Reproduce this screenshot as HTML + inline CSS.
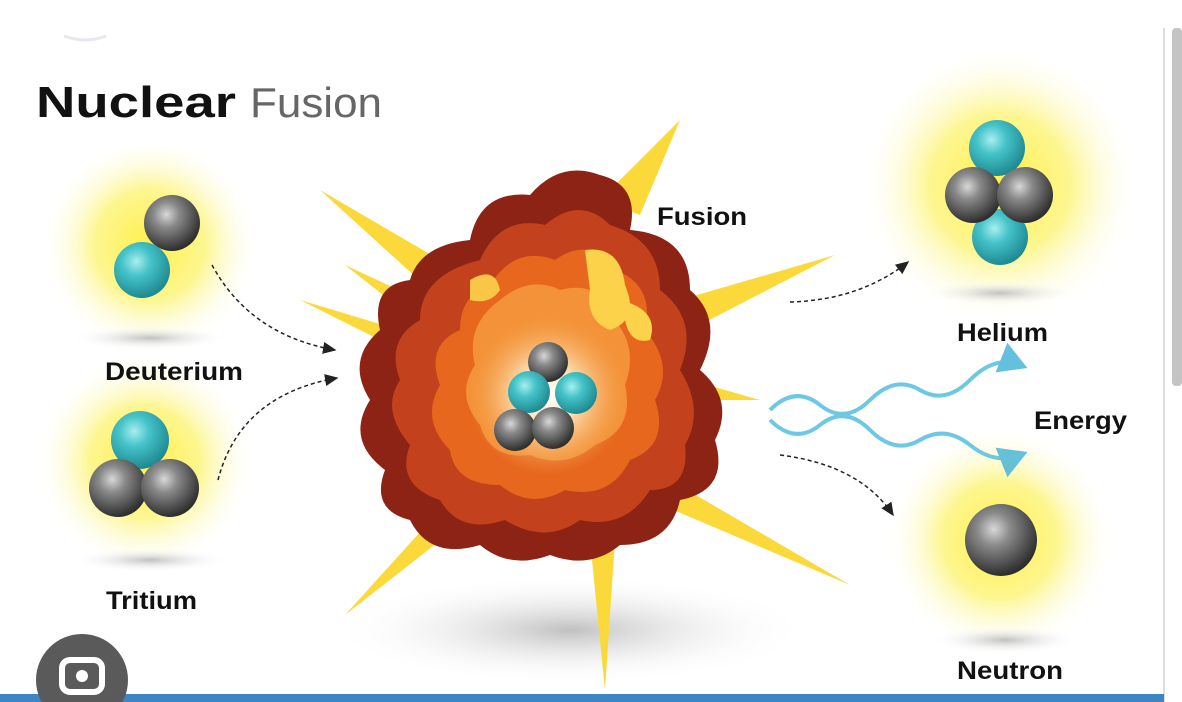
<!DOCTYPE html>
<html><head><meta charset="utf-8"><style>
html,body{margin:0;padding:0;background:#fff;}
svg{display:block;font-family:"Liberation Sans",sans-serif;}
</style></head><body>
<svg width="1182" height="702" viewBox="0 0 1182 702">
<defs>
<radialGradient id="glow"><stop offset="0" stop-color="#fff04a"/><stop offset="0.5" stop-color="#fdf690"/><stop offset="1" stop-color="#fff" stop-opacity="0"/></radialGradient>
<radialGradient id="shad"><stop offset="0" stop-color="#c0c0c0"/><stop offset="1" stop-color="#fff" stop-opacity="0"/></radialGradient>
<radialGradient id="gray" cx="0.4" cy="0.35" r="0.65"><stop offset="0" stop-color="#d8d8d8"/><stop offset="0.35" stop-color="#8a8a8a"/><stop offset="1" stop-color="#2e2e2e"/></radialGradient>
<radialGradient id="teal" cx="0.4" cy="0.35" r="0.65"><stop offset="0" stop-color="#a8eef0"/><stop offset="0.4" stop-color="#45c3c9"/><stop offset="1" stop-color="#1f8a92"/></radialGradient>
<radialGradient id="core"><stop offset="0" stop-color="#fff"/><stop offset="0.35" stop-color="#fde7c0"/><stop offset="1" stop-color="#f6a04a" stop-opacity="0"/></radialGradient>
<marker id="ah" markerWidth="10" markerHeight="10" refX="8" refY="5" orient="auto"><path d="M0,1 L9,5 L0,9 Z" fill="#222"/></marker>
<marker id="bh" markerWidth="8" markerHeight="8" refX="5" refY="4" orient="auto"><path d="M0,0 L7,4 L0,8 Z" fill="#4bb6d8"/></marker>
</defs>
<rect width="1182" height="702" fill="#fff"/>
<line x1="1164" y1="28" x2="1164" y2="702" stroke="#ddd" stroke-width="2"/>
<rect x="1172" y="28" width="10" height="358" rx="4" fill="#c4c4c4"/>
<path d="M64,36 Q86,44 106,36" stroke="#e6e8ec" stroke-width="3" fill="none"/>
<text x="36" y="117" font-size="44" font-weight="bold" fill="#111" textLength="200" lengthAdjust="spacingAndGlyphs">Nuclear</text>
<text x="250" y="117" font-size="42" fill="#666" textLength="132" lengthAdjust="spacingAndGlyphs">Fusion</text>
<circle cx="150" cy="245" r="110" fill="url(#glow)"/>
<circle cx="145" cy="462" r="110" fill="url(#glow)"/>
<circle cx="1000" cy="185" r="140" fill="url(#glow)"/>
<circle cx="1000" cy="540" r="115" fill="url(#glow)"/>
<ellipse cx="150" cy="338" rx="80" ry="12" fill="url(#shad)"/>
<ellipse cx="150" cy="560" rx="80" ry="12" fill="url(#shad)"/>
<ellipse cx="1000" cy="293" rx="75" ry="12" fill="url(#shad)"/>
<ellipse cx="1005" cy="640" rx="75" ry="14" fill="url(#shad)"/>
<ellipse cx="570" cy="630" rx="240" ry="55" fill="url(#shad)"/>
<g fill="#fbd93a">
<polygon points="600,200 680,120 640,215"/>
<polygon points="440,260 320,190 430,290"/>
<polygon points="420,300 345,265 415,320"/>
<polygon points="400,330 300,300 400,350"/>
<polygon points="680,300 835,255 690,330"/>
<polygon points="690,380 760,400 690,400"/>
<polygon points="670,480 850,585 650,500"/>
<polygon points="440,510 345,615 460,525"/>
<polygon points="590,540 605,690 615,540"/>
</g>
<path d="M470,240 Q480,190 530,195 Q560,160 600,175 Q640,185 630,230 Q690,235 690,290 Q725,320 700,370 Q735,400 715,440 Q730,490 680,500 Q670,545 620,545 Q590,570 550,555 Q510,570 480,545 Q430,560 410,520 Q370,510 385,470 Q345,440 370,400 Q345,360 380,330 Q370,285 410,280 Q420,245 470,240 Z" fill="#8c2314"/>
<path d="M480,260 Q500,215 545,225 Q580,195 610,225 Q660,240 660,290 Q700,320 680,370 Q705,410 685,445 Q690,490 650,490 Q625,530 580,520 Q545,545 505,520 Q460,535 440,500 Q395,485 410,445 Q380,410 400,380 Q385,340 420,320 Q420,275 480,260 Z" fill="#c3421d"/>
<path d="M490,285 Q515,245 555,260 Q590,235 615,270 Q655,285 645,330 Q675,365 655,400 Q670,445 630,460 Q610,500 565,490 Q530,510 500,485 Q455,485 450,450 Q420,420 440,385 Q425,345 460,330 Q460,295 490,285 Z" fill="#e8671f"/>
<path d="M500,300 Q530,275 560,290 Q600,280 610,315 Q640,345 625,385 Q635,430 595,445 Q565,470 530,455 Q490,460 480,425 Q455,395 475,365 Q465,325 500,300 Z" fill="#f39238"/>
<path d="M585,250 Q620,245 625,285 Q640,320 610,330 Q585,320 590,290 Z" fill="#fbd24a"/>
<path d="M470,280 Q495,265 500,290 Q490,305 470,300 Z" fill="#f9c648"/>
<path d="M620,300 Q660,310 650,340 Q630,345 625,320 Z" fill="#fbd24a"/>
<circle cx="548" cy="395" r="80" fill="url(#core)"/>
<g fill="none" stroke="#222" stroke-width="1.5" stroke-dasharray="4,3">
<path d="M212,265 Q250,335 335,350" marker-end="url(#ah)"/>
<path d="M218,480 Q240,395 337,378" marker-end="url(#ah)"/>
<path d="M790,302 Q860,300 908,262" marker-end="url(#ah)"/>
<path d="M780,455 Q860,465 893,515" marker-end="url(#ah)"/>
</g>
<g fill="none" stroke="#55bfe0" stroke-width="4" opacity="0.85">
<path d="M770,410 Q795,385 820,405 T870,400 T920,390 T970,380 T1020,365" marker-end="url(#bh)"/>
<path d="M770,420 Q795,445 820,425 T870,430 T920,440 T970,445 T1020,455" marker-end="url(#bh)"/>
</g>
<circle cx="172" cy="223" r="28" fill="url(#gray)"/>
<circle cx="142" cy="270" r="28" fill="url(#teal)"/>
<circle cx="140" cy="440" r="29" fill="url(#teal)"/>
<circle cx="118" cy="488" r="29" fill="url(#gray)"/>
<circle cx="170" cy="488" r="29" fill="url(#gray)"/>
<circle cx="997" cy="148" r="28" fill="url(#teal)"/>
<circle cx="1000" cy="237" r="28" fill="url(#teal)"/>
<circle cx="973" cy="195" r="28" fill="url(#gray)"/>
<circle cx="1025" cy="195" r="28" fill="url(#gray)"/>
<circle cx="1001" cy="540" r="36" fill="url(#gray)"/>
<circle cx="548" cy="362" r="20" fill="url(#gray)"/>
<circle cx="529" cy="392" r="21" fill="url(#teal)"/>
<circle cx="576" cy="393" r="21" fill="url(#teal)"/>
<circle cx="515" cy="430" r="21" fill="url(#gray)"/>
<circle cx="553" cy="428" r="21" fill="url(#gray)"/>
<g font-weight="bold" fill="#111" font-size="25">
<text x="105" y="380" textLength="138" lengthAdjust="spacingAndGlyphs">Deuterium</text>
<text x="106" y="609" textLength="91" lengthAdjust="spacingAndGlyphs">Tritium</text>
<text x="657" y="225" textLength="90" lengthAdjust="spacingAndGlyphs">Fusion</text>
<text x="957" y="341" textLength="91" lengthAdjust="spacingAndGlyphs">Helium</text>
<text x="1034" y="429" textLength="93" lengthAdjust="spacingAndGlyphs">Energy</text>
<text x="957" y="679" textLength="106" lengthAdjust="spacingAndGlyphs">Neutron</text>
</g>
<rect x="0" y="694" width="1164" height="8" fill="#3d86c6"/>
<circle cx="82" cy="680" r="46" fill="#5a5a5a"/>
<rect x="62" y="660" width="40" height="32" rx="8" fill="none" stroke="#fff" stroke-width="6"/>
<circle cx="82" cy="676" r="6" fill="#fff"/>
</svg>
</body></html>
